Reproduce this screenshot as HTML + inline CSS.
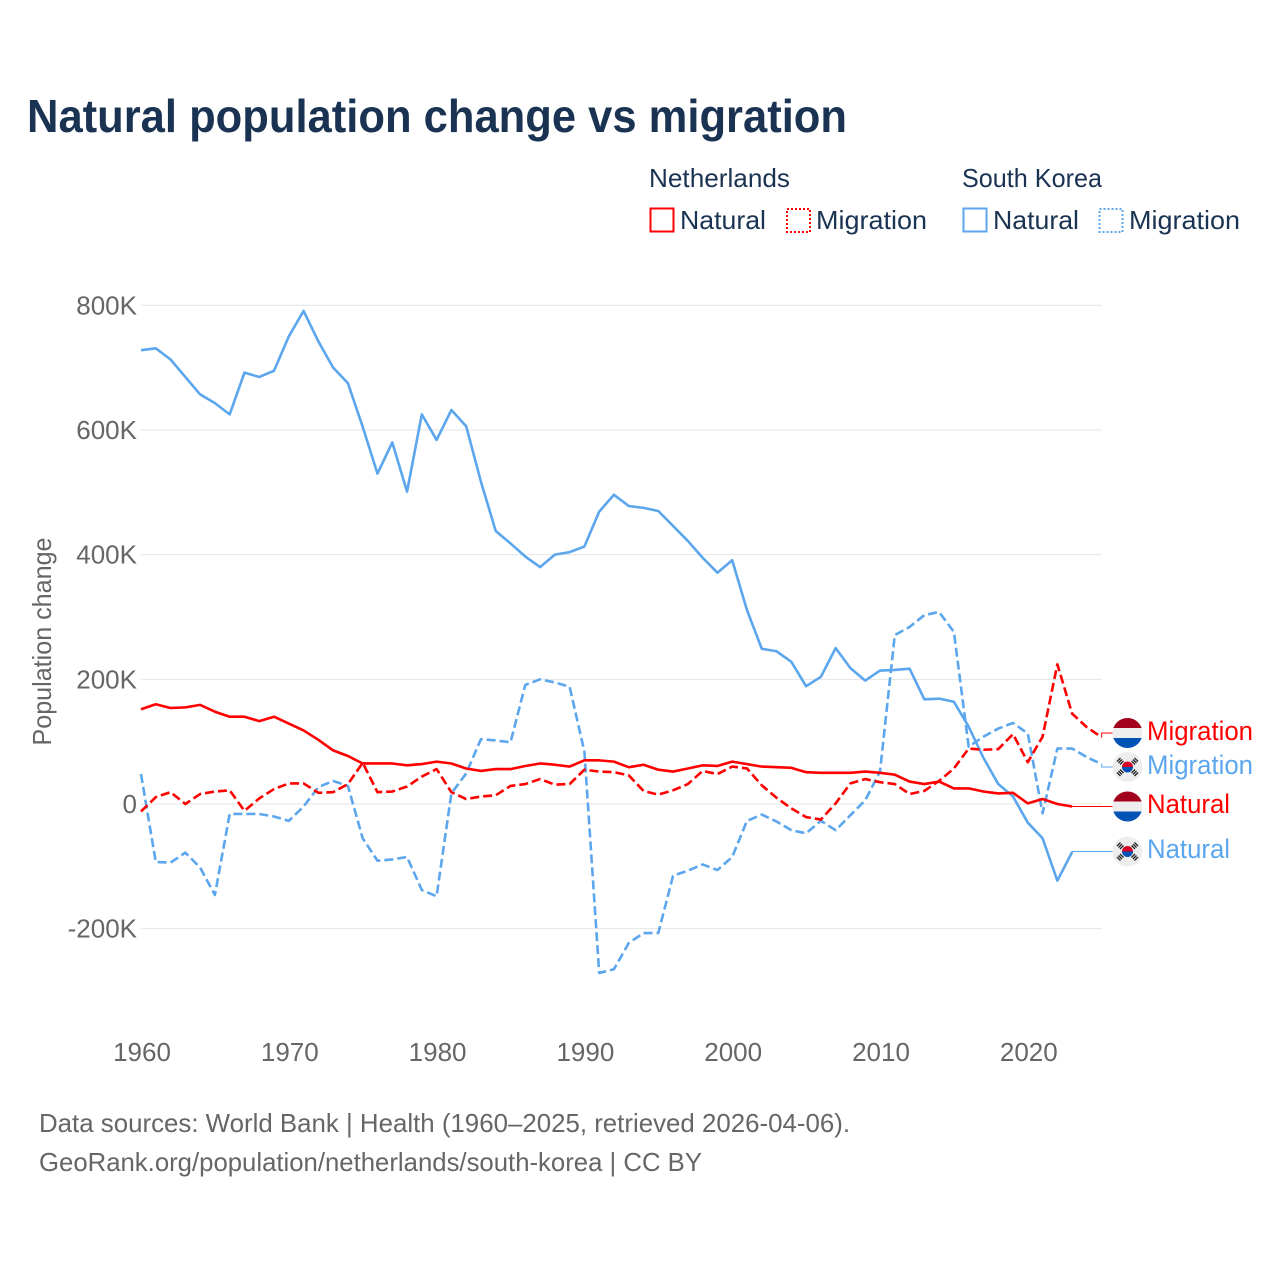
<!DOCTYPE html>
<html lang="en">
<head>
<meta charset="utf-8">
<title>Natural population change vs migration</title>
<style>
html,body{margin:0;padding:0;background:#fff;}
svg{display:block;font-family:"Liberation Sans",sans-serif;}
</style>
</head>
<body>
<svg id="chart" xmlns="http://www.w3.org/2000/svg" width="1280" height="1280" viewBox="0 0 1280 1280">
  <defs>
    <clipPath id="flag-clip"><circle cx="0" cy="0" r="15"/></clipPath>
    <g id="flag-nl">
      <g clip-path="url(#flag-clip)">
        <rect x="-15" y="-15" width="30" height="30" fill="#eeeeee"/>
        <rect x="-15" y="-15" width="30" height="10" fill="#a2001d"/>
        <rect x="-15" y="5" width="30" height="10" fill="#0052b4"/>
      </g>
    </g>
    <g id="flag-kr">
      <circle cx="0" cy="0" r="15" fill="#eeeeee"/>
      <path d="M-5.5 0A5.5 5.5 0 0 1 5.5 0Z" fill="#d80027"/>
      <path d="M-5.5 0A5.5 5.5 0 0 0 5.5 0Z" fill="#0052b4"/>
      <g stroke="#222" stroke-width="1.3" fill="none">
        <path d="M-10.5 -5.5l3.5 -3.5M-9 -4l3.5 -3.5M-7.5 -2.5l3.5 -3.5"/>
        <path d="M10.5 -5.5l-3.5 -3.5M9 -4l-3.5 -3.5M7.5 -2.5l-3.5 -3.5"/>
        <path d="M-10.5 5.5l3.5 3.5M-9 4l3.5 3.5M-7.5 2.5l3.5 3.5"/>
        <path d="M10.5 5.5l-3.5 3.5M9 4l-3.5 3.5M7.5 2.5l-3.5 3.5"/>
      </g>
    </g>
  </defs>

  <rect x="0" y="0" width="1280" height="1280" fill="#ffffff"/>

  <text x="27" y="132" font-size="46" font-weight="700" fill="#1a3353" textLength="820" lengthAdjust="spacingAndGlyphs">Natural population change vs migration</text>

  <g font-size="26" fill="#1a3353">
    <text x="649" y="187" textLength="141" lengthAdjust="spacingAndGlyphs">Netherlands</text>
    <text x="962" y="187" textLength="140" lengthAdjust="spacingAndGlyphs">South Korea</text>

    <rect x="650.5" y="208.5" width="23" height="23" fill="none" stroke="#ff0000" stroke-width="2"/>
    <text x="680" y="229" textLength="86" lengthAdjust="spacingAndGlyphs">Natural</text>
    <rect x="787" y="209" width="23" height="23" fill="none" stroke="#ff0000" stroke-width="2" stroke-dasharray="2 2"/>
    <text x="816" y="229" textLength="111" lengthAdjust="spacingAndGlyphs">Migration</text>

    <rect x="963.5" y="208.5" width="23" height="23" fill="none" stroke="#5ca6ee" stroke-width="2"/>
    <text x="993" y="229" textLength="86" lengthAdjust="spacingAndGlyphs">Natural</text>
    <rect x="1099.5" y="209" width="23" height="23" fill="none" stroke="#5ca6ee" stroke-width="2" stroke-dasharray="2 2"/>
    <text x="1129" y="229" textLength="111" lengthAdjust="spacingAndGlyphs">Migration</text>
  </g>

  <g id="grid"></g>
  <g id="y-axis" font-size="26" fill="#666666"></g>
  <g id="x-axis" font-size="26" fill="#666666"></g>

  <text transform="translate(51 641.5) rotate(-90)" text-anchor="middle" font-size="26" fill="#666666" textLength="208" lengthAdjust="spacingAndGlyphs">Population change</text>

  <g id="leaders"></g>
  <g id="series"></g>

  <g font-size="27">
    <use href="#flag-nl" x="1127.5" y="733"/>
    <text x="1147" y="740" fill="#ff0000" textLength="106" lengthAdjust="spacingAndGlyphs">Migration</text>
    <use href="#flag-kr" x="1127.5" y="767"/>
    <text x="1147" y="774" fill="#5ca6ee" textLength="106" lengthAdjust="spacingAndGlyphs">Migration</text>
    <use href="#flag-nl" x="1127.5" y="806.5"/>
    <text x="1147" y="813" fill="#ff0000" textLength="83" lengthAdjust="spacingAndGlyphs">Natural</text>
    <use href="#flag-kr" x="1127.5" y="851.5"/>
    <text x="1147" y="858" fill="#5ca6ee" textLength="83" lengthAdjust="spacingAndGlyphs">Natural</text>
  </g>

  <g font-size="26" fill="#666666">
    <text x="39" y="1132" textLength="811" lengthAdjust="spacingAndGlyphs">Data sources: World Bank | Health (1960–2025, retrieved 2026-04-06).</text>
    <text x="39" y="1171" textLength="663" lengthAdjust="spacingAndGlyphs">GeoRank.org/population/netherlands/south-korea | CC BY</text>
  </g>
</svg>

<script>
const startYear = 1960;
const xTicks = [1960, 1970, 1980, 1990, 2000, 2010, 2020];
const yTicks = [-200, 0, 200, 400, 600, 800];
const yTickLabels = ["-200K", "0", "200K", "400K", "600K", "800K"];

const netherlandsNatural = [152,160,154,155,159,148,140,140,133,140,129,118,103,86,77,65,65,65,62,64,68,65,57,53,56,56,61,65,63,60,70,70,68,59,63,55,52,57,62,61,68,64,60,59,58,51,50,50,50,52,50,47,36,32,36,25,25,20,17,18,1,8,0,-4];
const netherlandsMigration = [-12,11,19,0,16,20,22,-11,9,24,33,33,18,19,32,66,19,20,28,44,56,19,8,12,14,29,32,40,31,32,55,52,51,46,21,15,22,32,53,48,60,57,30,10,-7,-21,-25,1,33,40,35,32,16,21,37,57,89,87,88,112,67,108,224,145,123,107];
const southKoreaNatural = [728,731,713,685,657,643,625,692,685,695,750,791,742,700,675,605,530,580,501,625,584,632,606,517,438,418,397,380,400,404,413,469,496,478,475,470,446,422,395,371,391,311,249,245,228,189,204,250,218,198,214,215,217,168,169,164,124,74,32,12,-30,-55,-123,-77];
const southKoreaMigration = [48,-93,-94,-78,-102,-146,-16,-16,-16,-20,-27,-4,27,37,29,-55,-91,-89,-85,-138,-148,17,49,104,102,99,191,200,195,188,84,-271,-265,-223,-207,-207,-115,-107,-97,-106,-85,-27,-17,-28,-42,-47,-27,-42,-18,6,52,271,284,303,308,276,92,108,121,130,113,-15,89,89,75,64];

function xScale(year) { return 141 + (year - 1960) * 14.78; }
function yScale(value) { return 804 - value * 0.6234; }

const NS = "http://www.w3.org/2000/svg";
const gridGroup = document.getElementById("grid");
const yAxisGroup = document.getElementById("y-axis");
const xAxisGroup = document.getElementById("x-axis");
const seriesGroup = document.getElementById("series");
const leaderGroup = document.getElementById("leaders");

yTicks.forEach(function (tick, i) {
  const line = document.createElementNS(NS, "line");
  
  
  line.setAttribute("x1", xScale(1960));
  line.setAttribute("x2", xScale(2025));
  line.setAttribute("y1", yScale(tick));
  line.setAttribute("y2", yScale(tick));
  line.setAttribute("stroke", "#e4e4e4");
  line.setAttribute("stroke-width", "1");
  gridGroup.appendChild(line);

  const label = document.createElementNS(NS, "text");
  
  
  label.setAttribute("x", 137);
  label.setAttribute("y", yScale(tick) + 9);
  label.setAttribute("text-anchor", "end");
  label.textContent = yTickLabels[i];
  yAxisGroup.appendChild(label);
});

xTicks.forEach(function (tick) {
  const label = document.createElementNS(NS, "text");
  
  
  label.setAttribute("x", xScale(tick) + 1);
  label.setAttribute("y", 1061);
  label.setAttribute("text-anchor", "middle");
  label.textContent = String(tick);
  xAxisGroup.appendChild(label);
});

function drawSeries(values, color, dashed, name) {
  const line = document.createElementNS(NS, "polyline");
  
  
  line.setAttribute("points", values.map(function (v, i) {
    return xScale(startYear + i).toFixed(2) + "," + yScale(v).toFixed(2);
  }).join(" "));
  line.setAttribute("fill", "none");
  line.setAttribute("stroke", color);
  line.setAttribute("stroke-width", "2.6");
  line.setAttribute("stroke-linejoin", "round");
  if (dashed) line.setAttribute("stroke-dasharray", "9 4");
  seriesGroup.appendChild(line);
}

function drawLeader(values, color, targetY, name) {
  const lastX = xScale(startYear + values.length - 1);
  const lastY = yScale(values[values.length - 1]);
  const path = document.createElementNS(NS, "polyline");
  
  
  path.setAttribute("points", lastX + "," + lastY + " " + lastX + "," + targetY + " 1113," + targetY);
  path.setAttribute("fill", "none");
  path.setAttribute("stroke", color);
  path.setAttribute("stroke-width", "1");
  leaderGroup.appendChild(path);
}

drawLeader(netherlandsNatural, "#ff0000", 806.5, "leader-netherlands-natural");
drawLeader(netherlandsMigration, "#ff0000", 733, "leader-netherlands-migration");
drawLeader(southKoreaNatural, "#5ca6ee", 851.5, "leader-south-korea-natural");
drawLeader(southKoreaMigration, "#5ca6ee", 767, "leader-south-korea-migration");

drawSeries(southKoreaNatural, "#5ca6ee", false, "line-south-korea-natural");
drawSeries(southKoreaMigration, "#5ca6ee", true, "line-south-korea-migration");
drawSeries(netherlandsNatural, "#ff0000", false, "line-netherlands-natural");
drawSeries(netherlandsMigration, "#ff0000", true, "line-netherlands-migration");
</script>
</body>
</html>
